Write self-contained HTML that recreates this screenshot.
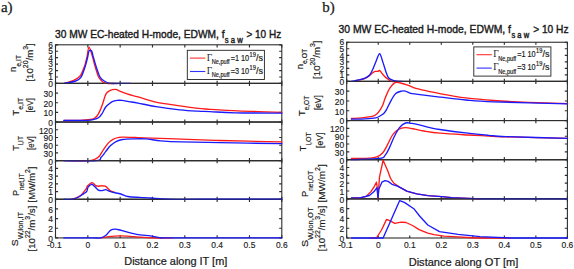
<!DOCTYPE html>
<html><head><meta charset="utf-8">
<style>
html,body{margin:0;padding:0;background:#fff;}
svg{display:block;}
text{font-family:"Liberation Sans",sans-serif;fill:#1a1a1a;}
.tk{stroke:#1a1a1a;stroke-width:0.15px;}
.lb,.lbs{stroke:#1a1a1a;stroke-width:0.18px;}
.tk{font-size:9.4px;}
.pl{font-family:"Liberation Serif",serif;font-size:15px;stroke:#1a1a1a;stroke-width:0.25px;}
.ti{font-size:11px;}
.tis{font-size:8.5px;}
.ti,.tis{stroke:#1a1a1a;stroke-width:0.4px;}
.lb{font-size:9.8px;}
.lbs{font-size:7px;}
.lg{font-size:8.2px;}
.lgs{font-size:6.3px;}
.lg,.lgs{stroke:#1a1a1a;stroke-width:0.18px;}
.lgG{font-family:"Liberation Serif",serif;font-size:9.5px;}
.xl{font-size:10.6px;stroke:#1a1a1a;stroke-width:0.22px;}
</style></head><body>
<svg width="574" height="269" viewBox="0 0 574 269">
<path d="M55.5 83.42h2.6M281.8 83.42h-2.6M55.5 76.98h2.6M281.8 76.98h-2.6M55.5 70.55h2.6M281.8 70.55h-2.6M55.5 64.11h2.6M281.8 64.11h-2.6M55.5 57.67h2.6M281.8 57.67h-2.6M55.5 51.24h2.6M281.8 51.24h-2.6M55.5 44.8h2.6M281.8 44.8h-2.6M55.5 44.8v2.6M55.5 83.42v-2.6M87.83 44.8v2.6M87.83 83.42v-2.6M120.16 44.8v2.6M120.16 83.42v-2.6M152.49 44.8v2.6M152.49 83.42v-2.6M184.81 44.8v2.6M184.81 83.42v-2.6M217.14 44.8v2.6M217.14 83.42v-2.6M249.47 44.8v2.6M249.47 83.42v-2.6M281.8 44.8v2.6M281.8 83.42v-2.6" stroke="#2e2e2e" stroke-width="1.15" fill="none"/>
<rect x="55.5" y="44.8" width="226.3" height="38.62" fill="none" stroke="#2e2e2e" stroke-width="1.1"/>
<path d="M55.5 122.04h2.6M281.8 122.04h-2.6M55.5 112.39h2.6M281.8 112.39h-2.6M55.5 102.73h2.6M281.8 102.73h-2.6M55.5 93.08h2.6M281.8 93.08h-2.6M55.5 83.42v2.6M55.5 122.04v-2.6M87.83 83.42v2.6M87.83 122.04v-2.6M120.16 83.42v2.6M120.16 122.04v-2.6M152.49 83.42v2.6M152.49 122.04v-2.6M184.81 83.42v2.6M184.81 122.04v-2.6M217.14 83.42v2.6M217.14 122.04v-2.6M249.47 83.42v2.6M249.47 122.04v-2.6M281.8 83.42v2.6M281.8 122.04v-2.6" stroke="#2e2e2e" stroke-width="1.15" fill="none"/>
<rect x="55.5" y="83.42" width="226.3" height="38.62" fill="none" stroke="#2e2e2e" stroke-width="1.1"/>
<path d="M55.5 160.66h2.6M281.8 160.66h-2.6M55.5 152.94h2.6M281.8 152.94h-2.6M55.5 145.21h2.6M281.8 145.21h-2.6M55.5 137.49h2.6M281.8 137.49h-2.6M55.5 129.76h2.6M281.8 129.76h-2.6M55.5 122.04v2.6M55.5 160.66v-2.6M87.83 122.04v2.6M87.83 160.66v-2.6M120.16 122.04v2.6M120.16 160.66v-2.6M152.49 122.04v2.6M152.49 160.66v-2.6M184.81 122.04v2.6M184.81 160.66v-2.6M217.14 122.04v2.6M217.14 160.66v-2.6M249.47 122.04v2.6M249.47 160.66v-2.6M281.8 122.04v2.6M281.8 160.66v-2.6" stroke="#2e2e2e" stroke-width="1.15" fill="none"/>
<rect x="55.5" y="122.04" width="226.3" height="38.62" fill="none" stroke="#2e2e2e" stroke-width="1.1"/>
<path d="M55.5 199.28h2.6M281.8 199.28h-2.6M55.5 191.56h2.6M281.8 191.56h-2.6M55.5 183.83h2.6M281.8 183.83h-2.6M55.5 176.11h2.6M281.8 176.11h-2.6M55.5 168.38h2.6M281.8 168.38h-2.6M55.5 160.66v2.6M55.5 199.28v-2.6M87.83 160.66v2.6M87.83 199.28v-2.6M120.16 160.66v2.6M120.16 199.28v-2.6M152.49 160.66v2.6M152.49 199.28v-2.6M184.81 160.66v2.6M184.81 199.28v-2.6M217.14 160.66v2.6M217.14 199.28v-2.6M249.47 160.66v2.6M249.47 199.28v-2.6M281.8 160.66v2.6M281.8 199.28v-2.6" stroke="#2e2e2e" stroke-width="1.15" fill="none"/>
<rect x="55.5" y="160.66" width="226.3" height="38.62" fill="none" stroke="#2e2e2e" stroke-width="1.1"/>
<path d="M55.5 237.9h2.6M281.8 237.9h-2.6M55.5 228.25h2.6M281.8 228.25h-2.6M55.5 218.59h2.6M281.8 218.59h-2.6M55.5 208.94h2.6M281.8 208.94h-2.6M55.5 199.28v2.6M55.5 237.9v-2.6M87.83 199.28v2.6M87.83 237.9v-2.6M120.16 199.28v2.6M120.16 237.9v-2.6M152.49 199.28v2.6M152.49 237.9v-2.6M184.81 199.28v2.6M184.81 237.9v-2.6M217.14 199.28v2.6M217.14 237.9v-2.6M249.47 199.28v2.6M249.47 237.9v-2.6M281.8 199.28v2.6M281.8 237.9v-2.6" stroke="#2e2e2e" stroke-width="1.15" fill="none"/>
<rect x="55.5" y="199.28" width="226.3" height="38.62" fill="none" stroke="#2e2e2e" stroke-width="1.1"/>
<path d="M64.2,83.42C65.77,82.92 70.98,81.59 73.6,80.4C76.22,79.21 78.33,78.03 79.9,76.3C81.47,74.57 82.12,72.03 83,70C83.88,67.97 84.53,66.27 85.2,64.1C85.87,61.93 86.36,59.8 87,57C87.64,54.2 88.12,47.3 89.05,47.3C89.98,47.3 91.71,54.2 92.6,57C93.49,59.8 93.82,61.98 94.4,64.1C94.98,66.22 95.38,67.5 96.1,69.7C96.82,71.9 97.58,75.25 98.7,77.3C99.82,79.35 101.58,80.98 102.8,82C104.02,83.02 103.97,83.18 106,83.42C108.03,83.66 113.5,83.42 115,83.42" fill="none" stroke="#ff1a1a" stroke-width="1.35" stroke-linejoin="round" stroke-linecap="round"/>
<path d="M64.2,83.42C66.12,83.02 72.92,82.02 75.7,81C78.48,79.98 79.5,79.18 80.9,77.3C82.3,75.42 83.27,71.9 84.1,69.7C84.93,67.5 85.3,66.22 85.9,64.1C86.5,61.98 87.18,59.18 87.7,57C88.22,54.82 88.4,52 89.05,51C89.7,50 90.89,50 91.6,51C92.31,52 92.67,54.82 93.3,57C93.93,59.18 94.75,61.98 95.4,64.1C96.05,66.22 96.4,67.5 97.2,69.7C98,71.9 98.9,75.33 100.2,77.3C101.5,79.27 103.33,80.48 105,81.5C106.67,82.52 107.7,83.1 110.2,83.42C112.7,83.74 116.7,83.42 120,83.42C123.3,83.42 128.33,83.42 130,83.42" fill="none" stroke="#1a1aff" stroke-width="1.35" stroke-linejoin="round" stroke-linecap="round"/>
<path d="M63.9,120.5C66.58,120.48 75.55,120.57 80,120.4C84.45,120.23 88.25,119.82 90.6,119.5C92.95,119.18 93.03,119.08 94.1,118.5C95.17,117.92 96.05,117.23 97,116C97.95,114.77 98.87,113.1 99.8,111.1C100.73,109.1 101.73,106.48 102.6,104C103.47,101.52 104.28,98.07 105,96.2C105.72,94.33 106.02,93.78 106.9,92.8C107.78,91.82 108.83,90.87 110.3,90.3C111.77,89.73 114.23,89.32 115.7,89.4C117.17,89.48 117.07,90 119.1,90.8C121.13,91.6 124.75,93.18 127.9,94.2C131.05,95.22 133.53,95.63 138,96.9C142.47,98.17 147.73,100.3 154.7,101.8C161.67,103.3 172.6,104.8 179.8,105.9C187,107 192.87,107.83 197.9,108.4C202.93,108.97 203.33,108.88 210,109.3C216.67,109.72 228.62,110.48 237.9,110.9C247.18,111.32 258.38,111.57 265.7,111.8C273.02,112.03 279.12,112.22 281.8,112.3" fill="none" stroke="#ff1a1a" stroke-width="1.35" stroke-linejoin="round" stroke-linecap="round"/>
<path d="M63.9,120.5C67.77,120.47 82.07,120.48 87.1,120.3C92.13,120.12 92.22,119.82 94.1,119.4C95.98,118.98 97.1,118.72 98.4,117.8C99.7,116.88 100.73,115.62 101.9,113.9C103.07,112.18 104.22,109.15 105.4,107.5C106.58,105.85 107.85,104.98 109,104C110.15,103.02 110.93,102.2 112.3,101.6C113.67,101 115.58,100.6 117.2,100.4C118.82,100.2 120.05,100.2 122,100.4C123.95,100.6 126.23,101.15 128.9,101.6C131.57,102.05 133.47,102.27 138,103.1C142.53,103.93 149.13,105.48 156.1,106.6C163.07,107.72 172.83,109.03 179.8,109.8C186.77,110.57 192.87,110.9 197.9,111.2C202.93,111.5 203.8,111.33 210,111.6C216.2,111.87 223.13,112.53 235.1,112.8C247.07,113.07 274.02,113.13 281.8,113.2" fill="none" stroke="#1a1aff" stroke-width="1.35" stroke-linejoin="round" stroke-linecap="round"/>
<path d="M63.9,160.66C67.92,160.66 82.8,160.92 88,160.66C93.2,160.4 93.22,159.84 95.1,159.1C96.98,158.36 97.9,157.78 99.3,156.2C100.7,154.62 102.02,151.78 103.5,149.6C104.98,147.42 106.62,144.82 108.2,143.1C109.78,141.38 111.22,140.25 113,139.3C114.78,138.35 117.12,137.77 118.9,137.4C120.68,137.03 120.92,137.08 123.7,137.1C126.48,137.12 132.22,137.38 135.6,137.5C138.98,137.62 136.3,137.53 144,137.8C151.7,138.07 169.13,138.65 181.8,139.1C194.47,139.55 203.33,140.03 220,140.5C236.67,140.97 271.5,141.67 281.8,141.9" fill="none" stroke="#ff1a1a" stroke-width="1.35" stroke-linejoin="round" stroke-linecap="round"/>
<path d="M63.9,160.66C69.3,160.66 90.1,161.22 96.3,160.66C102.5,160.1 99.52,158.84 101.1,157.3C102.68,155.76 104.22,153.37 105.8,151.4C107.38,149.43 108.82,147.18 110.6,145.5C112.38,143.82 114.52,142.3 116.5,141.3C118.48,140.3 119.72,139.9 122.5,139.5C125.28,139.1 129.35,139 133.2,138.9C137.05,138.8 140.98,138.58 145.6,138.9C150.22,139.22 154.87,140.3 160.9,140.8C166.93,141.3 171.95,141.6 181.8,141.9C191.65,142.2 203.33,142.3 220,142.6C236.67,142.9 271.5,143.52 281.8,143.7" fill="none" stroke="#1a1aff" stroke-width="1.35" stroke-linejoin="round" stroke-linecap="round"/>
<path d="M72,199.28C72.98,198.9 76.27,197.8 77.9,197C79.53,196.2 80.58,195.65 81.8,194.5C83.02,193.35 84.4,191.15 85.2,190.1C86,189.05 86.2,188.92 86.6,188.2C87,187.48 86.7,186.73 87.6,185.8C88.5,184.87 90.7,182.68 92,182.6C93.3,182.52 94.42,184.7 95.4,185.3C96.38,185.9 96.92,186.12 97.9,186.2C98.88,186.28 100.08,185.8 101.3,185.8C102.52,185.8 104.07,185.72 105.2,186.2C106.33,186.68 107.13,187.88 108.1,188.7C109.07,189.52 109.87,190.48 111,191.1C112.13,191.72 114.25,192.18 114.9,192.4" fill="none" stroke="#ff1a1a" stroke-width="1.35" stroke-linejoin="round" stroke-linecap="round"/>
<path d="M64.2,199.28C65.5,199.28 69.57,199.66 72,199.28C74.43,198.9 76.85,197.95 78.8,197C80.75,196.05 82.4,194.5 83.7,193.6C85,192.7 85.87,192.67 86.6,191.6C87.33,190.53 87.28,188.42 88.1,187.2C88.92,185.98 90.45,184.47 91.5,184.3C92.55,184.13 93.27,185.23 94.4,186.2C95.53,187.17 97,189.37 98.3,190.1C99.6,190.83 100.97,190.67 102.2,190.6C103.43,190.53 104.55,189.62 105.7,189.7C106.85,189.78 107.88,190.65 109.1,191.1C110.32,191.55 111.05,191.92 113,192.4C114.95,192.88 118.3,193.32 120.8,194C123.3,194.68 124.8,195.93 128,196.5C131.2,197.07 136.2,197.15 140,197.4C143.8,197.65 146.02,197.69 150.8,198C155.58,198.31 160.5,199.07 168.7,199.28C176.9,199.49 181.15,199.28 200,199.28C218.85,199.28 268.17,199.28 281.8,199.28" fill="none" stroke="#1a1aff" stroke-width="1.35" stroke-linejoin="round" stroke-linecap="round"/>
<path d="M100.4,237.9C101.78,237.68 105.45,236.93 108.7,236.6C111.95,236.27 115.72,235.9 119.9,235.9C124.08,235.9 128.47,236.27 133.8,236.6C139.13,236.93 145.53,237.68 151.9,237.9C158.27,238.12 168.65,237.9 172,237.9" fill="none" stroke="#ff1a1a" stroke-width="1.35" stroke-linejoin="round" stroke-linecap="round"/>
<path d="M63.9,237.9C68.58,237.9 85.92,237.9 92,237.9C98.08,237.9 98.07,238.35 100.4,237.9C102.73,237.45 104.27,236.5 106,235.2C107.73,233.9 109.18,231.1 110.8,230.1C112.42,229.1 113.95,229.15 115.7,229.2C117.45,229.25 117.82,229.55 121.3,230.4C124.78,231.25 131.73,233.38 136.6,234.3C141.47,235.22 146.32,235.3 150.5,235.9C154.68,236.5 158.12,237.57 161.7,237.9C165.28,238.23 151.98,237.9 172,237.9C192.02,237.9 263.5,237.9 281.8,237.9" fill="none" stroke="#1a1aff" stroke-width="1.35" stroke-linejoin="round" stroke-linecap="round"/>
<path d="M55.5 83.42H281.8M55.5 122.04H281.8M55.5 160.66H281.8M55.5 199.28H281.8" stroke="#2e2e2e" stroke-width="1.1" opacity="0.7"/>
<text transform="translate(53 86.62) scale(0.9 1)" class="tk" text-anchor="end">0</text>
<text transform="translate(53 80.18) scale(0.9 1)" class="tk" text-anchor="end">1</text>
<text transform="translate(53 73.75) scale(0.9 1)" class="tk" text-anchor="end">2</text>
<text transform="translate(53 67.31) scale(0.9 1)" class="tk" text-anchor="end">3</text>
<text transform="translate(53 60.87) scale(0.9 1)" class="tk" text-anchor="end">4</text>
<text transform="translate(53 54.44) scale(0.9 1)" class="tk" text-anchor="end">5</text>
<text transform="translate(53 48) scale(0.9 1)" class="tk" text-anchor="end">6</text>
<text transform="translate(53 125.94) scale(0.9 1)" class="tk" text-anchor="end">0</text>
<text transform="translate(53 116.29) scale(0.9 1)" class="tk" text-anchor="end">10</text>
<text transform="translate(53 106.63) scale(0.9 1)" class="tk" text-anchor="end">20</text>
<text transform="translate(53 96.98) scale(0.9 1)" class="tk" text-anchor="end">30</text>
<text transform="translate(53 164.56) scale(0.9 1)" class="tk" text-anchor="end">0</text>
<text transform="translate(53 156.84) scale(0.9 1)" class="tk" text-anchor="end">30</text>
<text transform="translate(53 149.11) scale(0.9 1)" class="tk" text-anchor="end">60</text>
<text transform="translate(53 141.39) scale(0.9 1)" class="tk" text-anchor="end">90</text>
<text transform="translate(53 133.66) scale(0.9 1)" class="tk" text-anchor="end">120</text>
<text transform="translate(53 203.18) scale(0.9 1)" class="tk" text-anchor="end">0</text>
<text transform="translate(53 195.46) scale(0.9 1)" class="tk" text-anchor="end">1</text>
<text transform="translate(53 187.73) scale(0.9 1)" class="tk" text-anchor="end">2</text>
<text transform="translate(53 180.01) scale(0.9 1)" class="tk" text-anchor="end">3</text>
<text transform="translate(53 172.28) scale(0.9 1)" class="tk" text-anchor="end">4</text>
<text transform="translate(53 241.8) scale(0.9 1)" class="tk" text-anchor="end">0</text>
<text transform="translate(53 232.15) scale(0.9 1)" class="tk" text-anchor="end">2</text>
<text transform="translate(53 222.49) scale(0.9 1)" class="tk" text-anchor="end">4</text>
<text transform="translate(53 212.84) scale(0.9 1)" class="tk" text-anchor="end">6</text>
<text transform="translate(54.3 248) scale(0.9 1)" class="tk" text-anchor="middle">-0.1</text>
<text transform="translate(87.83 248) scale(0.9 1)" class="tk" text-anchor="middle">0</text>
<text transform="translate(120.16 248) scale(0.9 1)" class="tk" text-anchor="middle">0.1</text>
<text transform="translate(152.49 248) scale(0.9 1)" class="tk" text-anchor="middle">0.2</text>
<text transform="translate(184.81 248) scale(0.9 1)" class="tk" text-anchor="middle">0.3</text>
<text transform="translate(217.14 248) scale(0.9 1)" class="tk" text-anchor="middle">0.4</text>
<text transform="translate(249.47 248) scale(0.9 1)" class="tk" text-anchor="middle">0.5</text>
<text transform="translate(281.8 248) scale(0.9 1)" class="tk" text-anchor="middle">0.6</text>
<path d="M346.7 81.4h2.6M567.4 81.4h-2.6M346.7 74.88h2.6M567.4 74.88h-2.6M346.7 68.35h2.6M567.4 68.35h-2.6M346.7 61.83h2.6M567.4 61.83h-2.6M346.7 55.3h2.6M567.4 55.3h-2.6M346.7 48.77h2.6M567.4 48.77h-2.6M346.7 42.25h2.6M567.4 42.25h-2.6M346.7 42.25v2.6M346.7 81.4v-2.6M378.23 42.25v2.6M378.23 81.4v-2.6M409.76 42.25v2.6M409.76 81.4v-2.6M441.29 42.25v2.6M441.29 81.4v-2.6M472.81 42.25v2.6M472.81 81.4v-2.6M504.34 42.25v2.6M504.34 81.4v-2.6M535.87 42.25v2.6M535.87 81.4v-2.6M567.4 42.25v2.6M567.4 81.4v-2.6" stroke="#2e2e2e" stroke-width="1.15" fill="none"/>
<rect x="346.7" y="42.25" width="220.7" height="39.15" fill="none" stroke="#2e2e2e" stroke-width="1.1"/>
<path d="M346.7 120.55h2.6M567.4 120.55h-2.6M346.7 110.76h2.6M567.4 110.76h-2.6M346.7 100.97h2.6M567.4 100.97h-2.6M346.7 91.19h2.6M567.4 91.19h-2.6M346.7 81.4v2.6M346.7 120.55v-2.6M378.23 81.4v2.6M378.23 120.55v-2.6M409.76 81.4v2.6M409.76 120.55v-2.6M441.29 81.4v2.6M441.29 120.55v-2.6M472.81 81.4v2.6M472.81 120.55v-2.6M504.34 81.4v2.6M504.34 120.55v-2.6M535.87 81.4v2.6M535.87 120.55v-2.6M567.4 81.4v2.6M567.4 120.55v-2.6" stroke="#2e2e2e" stroke-width="1.15" fill="none"/>
<rect x="346.7" y="81.4" width="220.7" height="39.15" fill="none" stroke="#2e2e2e" stroke-width="1.1"/>
<path d="M346.7 159.7h2.6M567.4 159.7h-2.6M346.7 151.87h2.6M567.4 151.87h-2.6M346.7 144.04h2.6M567.4 144.04h-2.6M346.7 136.21h2.6M567.4 136.21h-2.6M346.7 128.38h2.6M567.4 128.38h-2.6M346.7 120.55v2.6M346.7 159.7v-2.6M378.23 120.55v2.6M378.23 159.7v-2.6M409.76 120.55v2.6M409.76 159.7v-2.6M441.29 120.55v2.6M441.29 159.7v-2.6M472.81 120.55v2.6M472.81 159.7v-2.6M504.34 120.55v2.6M504.34 159.7v-2.6M535.87 120.55v2.6M535.87 159.7v-2.6M567.4 120.55v2.6M567.4 159.7v-2.6" stroke="#2e2e2e" stroke-width="1.15" fill="none"/>
<rect x="346.7" y="120.55" width="220.7" height="39.15" fill="none" stroke="#2e2e2e" stroke-width="1.1"/>
<path d="M346.7 198.85h2.6M567.4 198.85h-2.6M346.7 191.02h2.6M567.4 191.02h-2.6M346.7 183.19h2.6M567.4 183.19h-2.6M346.7 175.36h2.6M567.4 175.36h-2.6M346.7 167.53h2.6M567.4 167.53h-2.6M346.7 159.7v2.6M346.7 198.85v-2.6M378.23 159.7v2.6M378.23 198.85v-2.6M409.76 159.7v2.6M409.76 198.85v-2.6M441.29 159.7v2.6M441.29 198.85v-2.6M472.81 159.7v2.6M472.81 198.85v-2.6M504.34 159.7v2.6M504.34 198.85v-2.6M535.87 159.7v2.6M535.87 198.85v-2.6M567.4 159.7v2.6M567.4 198.85v-2.6" stroke="#2e2e2e" stroke-width="1.15" fill="none"/>
<rect x="346.7" y="159.7" width="220.7" height="39.15" fill="none" stroke="#2e2e2e" stroke-width="1.1"/>
<path d="M346.7 238h2.6M567.4 238h-2.6M346.7 228.21h2.6M567.4 228.21h-2.6M346.7 218.43h2.6M567.4 218.43h-2.6M346.7 208.64h2.6M567.4 208.64h-2.6M346.7 198.85v2.6M346.7 238v-2.6M378.23 198.85v2.6M378.23 238v-2.6M409.76 198.85v2.6M409.76 238v-2.6M441.29 198.85v2.6M441.29 238v-2.6M472.81 198.85v2.6M472.81 238v-2.6M504.34 198.85v2.6M504.34 238v-2.6M535.87 198.85v2.6M535.87 238v-2.6M567.4 198.85v2.6M567.4 238v-2.6" stroke="#2e2e2e" stroke-width="1.15" fill="none"/>
<rect x="346.7" y="198.85" width="220.7" height="39.15" fill="none" stroke="#2e2e2e" stroke-width="1.1"/>
<path d="M356,80.4C356.67,80.3 358.48,80.15 360,79.8C361.52,79.45 363.52,79.02 365.1,78.3C366.68,77.58 368.23,76.43 369.5,75.5C370.77,74.57 371.75,73.38 372.7,72.7C373.65,72.02 374.37,71.62 375.2,71.4C376.03,71.18 376.97,71.55 377.7,71.4C378.43,71.25 378.97,70.28 379.6,70.5C380.23,70.72 380.65,71.7 381.5,72.7C382.35,73.7 383.65,75.45 384.7,76.5C385.75,77.55 386.65,78.18 387.8,79C388.95,79.82 389.9,81 391.6,81.4C393.3,81.8 396.93,81.4 398,81.4" fill="none" stroke="#ff1a1a" stroke-width="1.35" stroke-linejoin="round" stroke-linecap="round"/>
<path d="M351.2,81.4C352.67,81.1 357.68,80.15 360,79.6C362.32,79.05 363.52,78.83 365.1,78.1C366.68,77.37 368.23,76.63 369.5,75.2C370.77,73.77 371.65,71.72 372.7,69.5C373.75,67.28 374.65,64.53 375.8,61.9C376.95,59.27 378.43,53.7 379.6,53.7C380.77,53.7 381.73,58.85 382.8,61.9C383.87,64.95 385.05,69.37 386,72C386.95,74.63 387.35,76.32 388.5,77.7C389.65,79.08 391.32,79.68 392.9,80.3C394.48,80.92 396.48,81.22 398,81.4C399.52,81.58 401.33,81.4 402,81.4" fill="none" stroke="#1a1aff" stroke-width="1.35" stroke-linejoin="round" stroke-linecap="round"/>
<path d="M351.4,118.5C353.12,118.38 358.45,118.12 361.7,117.8C364.95,117.48 368.67,117.02 370.9,116.6C373.13,116.18 373.7,116.22 375.1,115.3C376.5,114.38 378,112.87 379.3,111.1C380.6,109.33 381.9,106.92 382.9,104.7C383.9,102.48 384.15,100.55 385.3,97.8C386.45,95.05 388.18,90.72 389.8,88.2C391.42,85.68 393.27,83.57 395,82.7C396.73,81.83 398.1,82.58 400.2,83C402.3,83.42 405.13,84.33 407.6,85.2C410.07,86.07 412.93,87.52 415,88.2C417.07,88.88 415.68,88.37 420,89.3C424.32,90.23 433.23,92.37 440.9,93.8C448.57,95.23 457.15,96.78 466,97.9C474.85,99.02 483.53,99.77 494,100.5C504.47,101.23 516.55,101.77 528.8,102.3C541.05,102.83 561.05,103.47 567.5,103.7" fill="none" stroke="#ff1a1a" stroke-width="1.35" stroke-linejoin="round" stroke-linecap="round"/>
<path d="M351.4,119.2C353.7,119.13 361.13,119.03 365.2,118.8C369.27,118.57 373.33,118.27 375.8,117.8C378.27,117.33 378.63,116.77 380,116C381.37,115.23 382.87,114.37 384,113.2C385.13,112.03 385.58,111.18 386.8,109C388.02,106.82 389.82,102.7 391.3,100.1C392.78,97.5 393.97,94.9 395.7,93.4C397.43,91.9 400.08,91.48 401.7,91.1C403.32,90.72 403.92,90.72 405.4,91.1C406.88,91.48 408.75,92.9 410.6,93.4C412.45,93.9 414.6,93.85 416.5,94.1C418.4,94.35 417.93,94.38 422,94.9C426.07,95.42 433.57,96.35 440.9,97.2C448.23,98.05 457.15,99.23 466,100C474.85,100.77 477.08,101.15 494,101.8C510.92,102.45 555.25,103.55 567.5,103.9" fill="none" stroke="#1a1aff" stroke-width="1.35" stroke-linejoin="round" stroke-linecap="round"/>
<path d="M351.4,158.4C353.83,158.4 361.78,158.65 366,158.4C370.22,158.15 373.9,157.83 376.7,156.9C379.5,155.97 381.03,154.77 382.8,152.8C384.57,150.83 385.78,147.9 387.3,145.1C388.82,142.3 390.37,138.4 391.9,136C393.43,133.6 394.98,131.97 396.5,130.7C398.02,129.43 399.48,128.92 401,128.4C402.52,127.88 403.3,127.48 405.6,127.6C407.9,127.72 411.75,128.53 414.8,129.1C417.85,129.67 419.72,130.32 423.9,131C428.08,131.68 432.58,132.53 439.9,133.2C447.22,133.87 459.67,134.53 467.8,135C475.93,135.47 482.33,135.68 488.7,136C495.07,136.32 492.87,136.52 506,136.9C519.13,137.28 557.25,138.07 567.5,138.3" fill="none" stroke="#ff1a1a" stroke-width="1.35" stroke-linejoin="round" stroke-linecap="round"/>
<path d="M351.4,159.7C356.12,159.48 374.1,159.12 379.7,158.4C385.3,157.68 383.35,157.23 385,155.4C386.65,153.57 388.07,150.5 389.6,147.4C391.13,144.3 392.55,140.1 394.2,136.8C395.85,133.5 397.6,129.9 399.5,127.6C401.4,125.3 403.57,123.7 405.6,123C407.63,122.3 409.42,123.08 411.7,123.4C413.98,123.72 416.25,124.2 419.3,124.9C422.35,125.6 426.57,126.83 430,127.6C433.43,128.37 433.6,128.57 439.9,129.5C446.2,130.43 459.67,132.23 467.8,133.2C475.93,134.17 482.33,134.73 488.7,135.3C495.07,135.87 492.87,136.1 506,136.6C519.13,137.1 557.25,138.02 567.5,138.3" fill="none" stroke="#1a1aff" stroke-width="1.35" stroke-linejoin="round" stroke-linecap="round"/>
<path d="M351.5,197.8 360,197.8 366.3,196.3 370.9,191.6 374.1,186.9 376.4,182.2 377.5,188.5 378,198.85 379.5,176.8 383.1,160.3 387.3,169.7 390.5,178.3 393.6,183 399.1,186.9 407,191.4 416.7,193.9 427.9,195.7 441.8,196.7 451.6,197.6 480,198.85" fill="none" stroke="#ff1a1a" stroke-width="1.35" stroke-linejoin="round" stroke-linecap="round"/>
<path d="M351.5,197.8 360,197.8 369.4,195.5 374.1,191.6 376.9,187.7 378,197.8 378.8,189.3 381.9,182.2 385,180.7 388.1,181.4 392,184.3 397.5,186.1 407,191.2 416.7,193.8 427.9,195.6 441.8,196.7 451.6,197.6 480,198.85 567.5,198.85" fill="none" stroke="#1a1aff" stroke-width="1.35" stroke-linejoin="round" stroke-linecap="round"/>
<path d="M370,238 376.4,238 381.5,230 386.6,219.4 389.6,220.6 394.8,223.4 401.1,222.2 406,222.5 412.6,225.5 419.1,229.6 427.8,233.2 434,234.6 444.1,236.2 457.9,236.9 476,238 510,238" fill="none" stroke="#ff1a1a" stroke-width="1.35" stroke-linejoin="round" stroke-linecap="round"/>
<path d="M351.4,238 383.1,238 399.7,200.6 404.4,202.4 413.8,208.7 420,216.5 427.8,225 439.5,231.6 458.1,234.4 480,236.7 510,238 567.5,238" fill="none" stroke="#1a1aff" stroke-width="1.35" stroke-linejoin="round" stroke-linecap="round"/>
<path d="M346.7 81.4H567.4M346.7 120.55H567.4M346.7 159.7H567.4M346.7 198.85H567.4" stroke="#2e2e2e" stroke-width="1.1" opacity="0.7"/>
<text transform="translate(344.2 84.6) scale(0.9 1)" class="tk" text-anchor="end">0</text>
<text transform="translate(344.2 78.08) scale(0.9 1)" class="tk" text-anchor="end">1</text>
<text transform="translate(344.2 71.55) scale(0.9 1)" class="tk" text-anchor="end">2</text>
<text transform="translate(344.2 65.03) scale(0.9 1)" class="tk" text-anchor="end">3</text>
<text transform="translate(344.2 58.5) scale(0.9 1)" class="tk" text-anchor="end">4</text>
<text transform="translate(344.2 51.98) scale(0.9 1)" class="tk" text-anchor="end">5</text>
<text transform="translate(344.2 45.45) scale(0.9 1)" class="tk" text-anchor="end">6</text>
<text transform="translate(344.2 124.45) scale(0.9 1)" class="tk" text-anchor="end">0</text>
<text transform="translate(344.2 114.66) scale(0.9 1)" class="tk" text-anchor="end">10</text>
<text transform="translate(344.2 104.88) scale(0.9 1)" class="tk" text-anchor="end">20</text>
<text transform="translate(344.2 95.09) scale(0.9 1)" class="tk" text-anchor="end">30</text>
<text transform="translate(344.2 163.6) scale(0.9 1)" class="tk" text-anchor="end">0</text>
<text transform="translate(344.2 155.77) scale(0.9 1)" class="tk" text-anchor="end">30</text>
<text transform="translate(344.2 147.94) scale(0.9 1)" class="tk" text-anchor="end">60</text>
<text transform="translate(344.2 140.11) scale(0.9 1)" class="tk" text-anchor="end">90</text>
<text transform="translate(344.2 132.28) scale(0.9 1)" class="tk" text-anchor="end">120</text>
<text transform="translate(344.2 202.75) scale(0.9 1)" class="tk" text-anchor="end">0</text>
<text transform="translate(344.2 194.92) scale(0.9 1)" class="tk" text-anchor="end">1</text>
<text transform="translate(344.2 187.09) scale(0.9 1)" class="tk" text-anchor="end">2</text>
<text transform="translate(344.2 179.26) scale(0.9 1)" class="tk" text-anchor="end">3</text>
<text transform="translate(344.2 171.43) scale(0.9 1)" class="tk" text-anchor="end">4</text>
<text transform="translate(344.2 241.9) scale(0.9 1)" class="tk" text-anchor="end">0</text>
<text transform="translate(344.2 232.11) scale(0.9 1)" class="tk" text-anchor="end">2</text>
<text transform="translate(344.2 222.33) scale(0.9 1)" class="tk" text-anchor="end">4</text>
<text transform="translate(344.2 212.54) scale(0.9 1)" class="tk" text-anchor="end">6</text>
<text transform="translate(345.5 248) scale(0.9 1)" class="tk" text-anchor="middle">-0.1</text>
<text transform="translate(378.23 248) scale(0.9 1)" class="tk" text-anchor="middle">0</text>
<text transform="translate(409.76 248) scale(0.9 1)" class="tk" text-anchor="middle">0.1</text>
<text transform="translate(441.29 248) scale(0.9 1)" class="tk" text-anchor="middle">0.2</text>
<text transform="translate(472.81 248) scale(0.9 1)" class="tk" text-anchor="middle">0.3</text>
<text transform="translate(504.34 248) scale(0.9 1)" class="tk" text-anchor="middle">0.4</text>
<text transform="translate(535.87 248) scale(0.9 1)" class="tk" text-anchor="middle">0.5</text>
<text transform="translate(567.4 248) scale(0.9 1)" class="tk" text-anchor="middle">0.6</text>
<text x="0.9" y="12" class="pl">a)</text>
<text x="322.2" y="12" class="pl">b)</text>
<text x="55" y="37.8" class="ti" textLength="169.6" lengthAdjust="spacingAndGlyphs">30 MW EC-heated H-mode, EDWM, f</text><text x="224.8" y="42.599999999999994" class="tis" textLength="17.9" lengthAdjust="spacingAndGlyphs">s a w</text><text x="246.4" y="37.8" class="ti" textLength="34.8" lengthAdjust="spacingAndGlyphs">&gt; 10 Hz</text>
<text x="338.5" y="33.1" class="ti" textLength="172.5" lengthAdjust="spacingAndGlyphs">30 MW EC-heated H-mode, EDWM, f</text><text x="511.5" y="37.9" class="tis" textLength="17.6" lengthAdjust="spacingAndGlyphs">s a w</text><text x="533.2" y="33.1" class="ti" textLength="35.3" lengthAdjust="spacingAndGlyphs">&gt; 10 Hz</text>
<text transform="translate(16.2 71.9) rotate(-90)" textLength="16.9" lengthAdjust="spacingAndGlyphs"><tspan class="lb" dy="0">n</tspan><tspan class="lbs" dy="4.4">e,IT</tspan></text>
<text transform="translate(32.8 81.6) rotate(-90)" textLength="38.4" lengthAdjust="spacingAndGlyphs"><tspan class="lb" dy="0">[10</tspan><tspan class="lbs" dy="-4.8">20</tspan><tspan class="lb" dy="4.8">/m</tspan><tspan class="lbs" dy="-4.8">3</tspan><tspan class="lb" dy="4.8">]</tspan></text>
<text transform="translate(18.7 115.8) rotate(-90)" textLength="18.1" lengthAdjust="spacingAndGlyphs"><tspan class="lb" dy="0">T</tspan><tspan class="lbs" dy="4.4">e,IT</tspan></text>
<text transform="translate(33.2 112.5) rotate(-90)" textLength="14.3" lengthAdjust="spacingAndGlyphs"><tspan class="lb" dy="0">[eV]</tspan></text>
<text transform="translate(18.7 150.8) rotate(-90)" textLength="14.8" lengthAdjust="spacingAndGlyphs"><tspan class="lb" dy="0">T</tspan><tspan class="lbs" dy="4.4">i,IT</tspan></text>
<text transform="translate(34 149.9) rotate(-90)" textLength="13.6" lengthAdjust="spacingAndGlyphs"><tspan class="lb" dy="0">[eV]</tspan></text>
<text transform="translate(19.3 196) rotate(-90)" textLength="22.6" lengthAdjust="spacingAndGlyphs"><tspan class="lb" dy="0">P</tspan><tspan class="lbs" dy="4.4">net,IT</tspan></text>
<text transform="translate(35.1 202.4) rotate(-90)" textLength="35.8" lengthAdjust="spacingAndGlyphs"><tspan class="lb" dy="0">[MW/m</tspan><tspan class="lbs" dy="-4.8">2</tspan><tspan class="lb" dy="4.8">]</tspan></text>
<text transform="translate(18.2 246.2) rotate(-90)" textLength="34.2" lengthAdjust="spacingAndGlyphs"><tspan class="lb" dy="0">S</tspan><tspan class="lbs" dy="4.4">W,Ion,IT</tspan></text>
<text transform="translate(35.1 251.4) rotate(-90)" textLength="45.7" lengthAdjust="spacingAndGlyphs"><tspan class="lb" dy="0">[10</tspan><tspan class="lbs" dy="-4.8">22</tspan><tspan class="lb" dy="4.8">/m</tspan><tspan class="lbs" dy="-4.8">3</tspan><tspan class="lb" dy="4.8">/s]</tspan></text>
<text transform="translate(303 69.3) rotate(-90)" textLength="20.4" lengthAdjust="spacingAndGlyphs"><tspan class="lb" dy="0">n</tspan><tspan class="lbs" dy="4.4">e,OT</tspan></text>
<text transform="translate(320.1 78.9) rotate(-90)" textLength="38.4" lengthAdjust="spacingAndGlyphs"><tspan class="lb" dy="0">[10</tspan><tspan class="lbs" dy="-4.8">20</tspan><tspan class="lb" dy="4.8">/m</tspan><tspan class="lbs" dy="-4.8">3</tspan><tspan class="lb" dy="4.8">]</tspan></text>
<text transform="translate(305 115.9) rotate(-90)" textLength="20.1" lengthAdjust="spacingAndGlyphs"><tspan class="lb" dy="0">T</tspan><tspan class="lbs" dy="4.4">e,OT</tspan></text>
<text transform="translate(320.5 110.1) rotate(-90)" textLength="14.8" lengthAdjust="spacingAndGlyphs"><tspan class="lb" dy="0">[eV]</tspan></text>
<text transform="translate(306.3 151.4) rotate(-90)" textLength="19.2" lengthAdjust="spacingAndGlyphs"><tspan class="lb" dy="0">T</tspan><tspan class="lbs" dy="4.4">i,OT</tspan></text>
<text transform="translate(322.5 148) rotate(-90)" textLength="15.3" lengthAdjust="spacingAndGlyphs"><tspan class="lb" dy="0">[eV]</tspan></text>
<text transform="translate(308.1 197) rotate(-90)" textLength="26.2" lengthAdjust="spacingAndGlyphs"><tspan class="lb" dy="0">P</tspan><tspan class="lbs" dy="4.4">net,OT</tspan></text>
<text transform="translate(325.1 202.4) rotate(-90)" textLength="38.1" lengthAdjust="spacingAndGlyphs"><tspan class="lb" dy="0">[MW/m</tspan><tspan class="lbs" dy="-4.8">2</tspan><tspan class="lb" dy="4.8">]</tspan></text>
<text transform="translate(308.2 247) rotate(-90)" textLength="39.6" lengthAdjust="spacingAndGlyphs"><tspan class="lb" dy="0">S</tspan><tspan class="lbs" dy="4.4">W,Ion,OT</tspan></text>
<text transform="translate(325.1 251.2) rotate(-90)" textLength="45.5" lengthAdjust="spacingAndGlyphs"><tspan class="lb" dy="0">[10</tspan><tspan class="lbs" dy="-4.8">22</tspan><tspan class="lb" dy="4.8">/m</tspan><tspan class="lbs" dy="-4.8">3</tspan><tspan class="lb" dy="4.8">/s]</tspan></text>
<rect x="187.3" y="50.3" width="77.1" height="29.2" fill="#fff" stroke="#222" stroke-width="0.9"/><path d="M190 58.1H205.3" stroke="#ff3030" stroke-width="1.1"/><path d="M190 71.5H205.3" stroke="#3030ff" stroke-width="1.1"/><text x="206.8" y="60.7" class="lgG">&#915;</text><text x="211.7" y="63.9" class="lgs" textLength="18" lengthAdjust="spacingAndGlyphs">Ne,puff</text><text x="230.7" y="60.7" class="lg" textLength="18.5" lengthAdjust="spacingAndGlyphs">=1 10</text><text x="249.6" y="56.7" class="lgs" textLength="6.3" lengthAdjust="spacingAndGlyphs">19</text><text x="256" y="60.7" class="lg" textLength="7" lengthAdjust="spacingAndGlyphs">/s</text><text x="206.8" y="73.7" class="lgG">&#915;</text><text x="211.7" y="76.9" class="lgs" textLength="18" lengthAdjust="spacingAndGlyphs">Ne,puff</text><text x="230.7" y="73.7" class="lg" textLength="18.5" lengthAdjust="spacingAndGlyphs">=3 10</text><text x="249.6" y="69.7" class="lgs" textLength="6.3" lengthAdjust="spacingAndGlyphs">19</text><text x="256" y="73.7" class="lg" textLength="7" lengthAdjust="spacingAndGlyphs">/s</text>
<rect x="473.8" y="46.9" width="77.1" height="29.2" fill="#fff" stroke="#222" stroke-width="0.9"/><path d="M476.5 54.7H491.8" stroke="#ff3030" stroke-width="1.1"/><path d="M476.5 68.1H491.8" stroke="#3030ff" stroke-width="1.1"/><text x="493.3" y="57.3" class="lgG">&#915;</text><text x="498.2" y="60.5" class="lgs" textLength="18" lengthAdjust="spacingAndGlyphs">Ne,puff</text><text x="517.2" y="57.3" class="lg" textLength="18.5" lengthAdjust="spacingAndGlyphs">=1 10</text><text x="536.1" y="53.3" class="lgs" textLength="6.3" lengthAdjust="spacingAndGlyphs">19</text><text x="542.5" y="57.3" class="lg" textLength="7" lengthAdjust="spacingAndGlyphs">/s</text><text x="493.3" y="70.3" class="lgG">&#915;</text><text x="498.2" y="73.5" class="lgs" textLength="18" lengthAdjust="spacingAndGlyphs">Ne,puff</text><text x="517.2" y="70.3" class="lg" textLength="18.5" lengthAdjust="spacingAndGlyphs">=3 10</text><text x="536.1" y="66.3" class="lgs" textLength="6.3" lengthAdjust="spacingAndGlyphs">19</text><text x="542.5" y="70.3" class="lg" textLength="7" lengthAdjust="spacingAndGlyphs">/s</text>
<text x="124.3" y="265.3" class="xl" textLength="103" lengthAdjust="spacingAndGlyphs">Distance along IT [m]</text>
<text x="408.7" y="266" class="xl" textLength="109.7" lengthAdjust="spacingAndGlyphs">Distance along OT [m]</text>
</svg>
</body></html>
